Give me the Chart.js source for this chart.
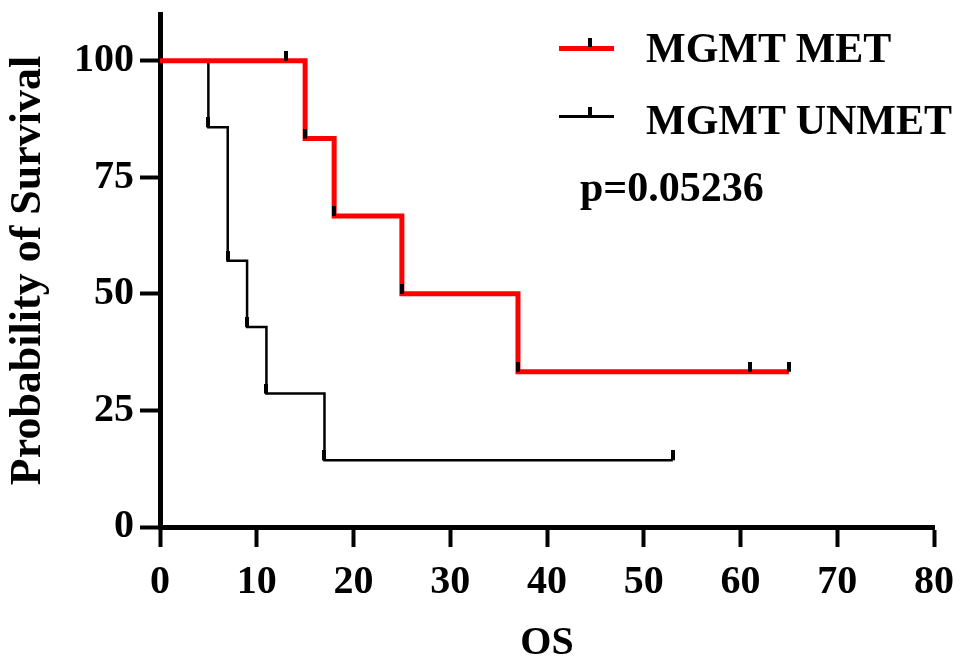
<!DOCTYPE html>
<html>
<head>
<meta charset="utf-8">
<script src="https://cdn.jsdelivr.net/npm/chart.js@4/dist/chart.umd.min.js"></script>
<style>
  body { margin: 0; background: #fff; }
  #wrap { position: relative; width: 960px; height: 664px; }
  .lbl {
    position: absolute;
    font-family: "Liberation Serif", "Times New Roman", serif;
    font-weight: bold;
    font-size: 42px;
    line-height: 42px;
    white-space: nowrap;
    color: #000;
  }
  .key { position: absolute; left: 559px; width: 55px; }
  .mark { position: absolute; left: 588px; width: 4px; height: 9px; background: #000; }
</style>
</head>
<body>
<div id="wrap">
  <canvas id="km" width="960" height="664"></canvas>
  <div class="key" style="top:46px;height:5px;background:#ff0000;"></div>
  <div class="mark" style="top:38px;"></div>
  <div class="lbl" style="left:646px;top:27px;">MGMT MET</div>
  <div class="key" style="top:115px;height:3px;background:#000;"></div>
  <div class="mark" style="top:107px;"></div>
  <div class="lbl" style="left:646px;top:99px;">MGMT UNMET</div>
  <div class="lbl" style="left:580px;top:166px;">p=0.05236</div>
</div>
<script>
// survival steps (months, % surviving)
const metTimes = [0, 13, 15, 18, 25, 37, 61, 65];
const metSurv = [100, 100, 83.3, 66.7, 50, 33.3, 33.3, 33.3];
const unmetTimes = [0, 5, 7, 9, 11, 17, 53];
const unmetSurv = [100, 85.7, 57.1, 42.9, 28.6, 14.3, 14.3];
const yTicks = [0, 25, 50, 75, 100];
const xTicks = [0, 10, 20, 30, 40, 50, 60, 70, 80];

const FONT = "'Liberation Serif', 'Times New Roman', serif";

// little black censor/event tick that sits on top of the line
function makeTick() {
  const c = document.createElement("canvas");
  c.width = 4;
  c.height = 20;
  const g = c.getContext("2d");
  g.fillStyle = "#000";
  g.fillRect(0, 0, 4, 10);
  return c;
}
const tickImg = makeTick();

function toPoints(xs, ys) {
  return xs.map((x, i) => ({ x: x, y: ys[i] }));
}

const ctx = document.getElementById("km").getContext("2d");
new Chart(ctx, {
  type: "line",
  data: {
    datasets: [
      {
        label: "MGMT MET",
        data: toPoints(metTimes, metSurv),
        borderColor: "#ff0000",
        borderWidth: 5,
        stepped: "before",
        fill: false,
        pointStyle: tickImg,
        pointRadius: (c) => (c.dataIndex === 0 ? 0 : 3),
        borderCapStyle: "butt",
        borderJoinStyle: "miter",
      },
      {
        label: "MGMT UNMET",
        data: toPoints(unmetTimes, unmetSurv),
        borderColor: "#000",
        borderWidth: 2.5,
        stepped: "before",
        fill: false,
        pointStyle: tickImg,
        pointRadius: (c) => (c.dataIndex === 0 ? 0 : 3),
        borderCapStyle: "butt",
        borderJoinStyle: "miter",
      },
    ],
  },
  options: {
    responsive: false,
    animation: false,
    events: [],
    layout: { padding: { top: 14, right: 26, left: 0, bottom: 0 } },
    plugins: { legend: { display: false }, tooltip: { enabled: false } },
    scales: {
      x: {
        type: "linear",
        min: 0,
        max: 80,
        afterBuildTicks: (s) => { s.ticks = xTicks.map((v) => ({ value: v })); },
        afterFit: (s) => {
          s.height = 137;
          s.paddingLeft = 0;
          s.paddingRight = 0;
        },
        border: { display: true, color: "#000", width: 5 },
        grid: { drawOnChartArea: false, color: "#000", tickLength: 20, tickWidth: 4 },
        ticks: {
          color: "#000",
          padding: 12,
          maxRotation: 0,
          font: { family: FONT, size: 40, weight: "bold" },
        },
        title: {
          display: true,
          text: "OS",
          color: "#000",
          padding: { top: 0, bottom: 0 },
          font: { family: FONT, size: 40, weight: "bold", lineHeight: 1 },
        },
      },
      y: {
        min: 0,
        max: 110,
        afterBuildTicks: (s) => { s.ticks = yTicks.map((v) => ({ value: v })); },
        afterFit: (s) => {
          s.width = 160;
          s.paddingTop = 0;
          s.paddingBottom = 0;
        },
        border: { display: true, color: "#000", width: 5 },
        grid: { drawOnChartArea: false, color: "#000", tickLength: 20, tickWidth: 4 },
        ticks: {
          color: "#000",
          padding: 6,
          font: { family: FONT, size: 40, weight: "bold" },
        },
        title: {
          display: true,
          text: "Probability of Survival",
          color: "#000",
          padding: { top: 7, bottom: 0 },
          font: { family: FONT, size: 44, weight: "bold", lineHeight: 1 },
        },
      },
    },
  },
});
</script>
</body>
</html>
